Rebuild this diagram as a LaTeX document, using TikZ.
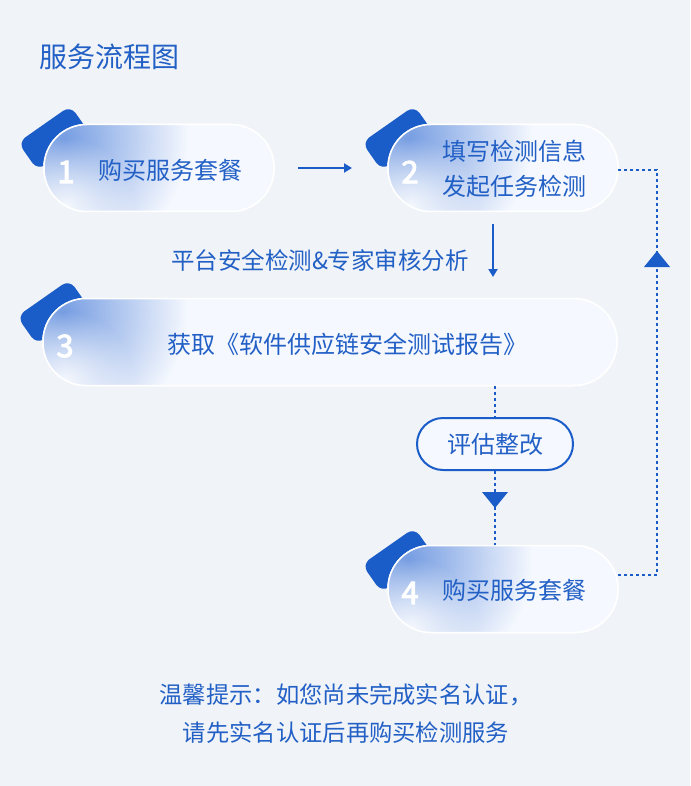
\documentclass[tikz,border=0pt]{standalone}
\usepackage{fontspec}
\setmainfont{Noto Sans CJK SC}
\newfontfamily\numfont{Noto Sans CJK SC}[FakeBold=3]
\usetikzlibrary{arrows.meta,fadings}
\tikzfading[name=radfade, inner color=transparent!0, outer color=transparent!100]
\definecolor{bg}{HTML}{F0F3F7}
\definecolor{tabblue}{HTML}{1A5CC8}
\definecolor{txtblue}{HTML}{2260C6}
\definecolor{pillfill}{HTML}{F5F8FE}
\definecolor{glow}{HTML}{769DE2}
\tikzset{
  pillbox/.style={fill=pillfill, draw=white, line width=1.5pt, rounded corners=43pt, inner sep=0pt},
  num/.style={text=white, font=\numfont\fontsize{31}{31}\selectfont, inner sep=0pt},
  ptext/.style={text=txtblue, font=\fontsize{24}{35}\selectfont, inner sep=0pt, align=center},
  dotline/.style={draw=tabblue, line width=2pt, dash pattern=on 3pt off 3pt},
  solidarrow/.style={draw=tabblue, line width=2.5pt, -{Triangle[length=8pt,width=9pt]}},
  tri/.style={fill=tabblue},
}
\newcommand{\glowpill}[4]{%
  \begin{scope}
    \clip[rounded corners=43pt] (#1,#2) rectangle (#3,#4);
    \shade[inner color=glow, outer color=pillfill] (#1+20,#2+14) circle (125);
    \fill[white, opacity=0.85, path fading=radfade] (#1+22,#4-4) circle (70);
  \end{scope}
  \draw[white, line width=1.5pt, rounded corners=43pt] (#1,#2) rectangle (#3,#4);
}
\begin{document}
\begin{tikzpicture}[x=1pt,y=-1pt]
\fill[bg] (0,0) rectangle (690,786);
\useasboundingbox (0,0) rectangle (690,786);

\node[anchor=west, text=txtblue, font=\fontsize{28}{28}\selectfont, inner sep=0pt] (title) at (39,57) {服务流程图};

% pill 1
\fill[tabblue, rounded corners=9pt, rotate around={35:(54,138)}] (22,121) rectangle (86,155);
\node[pillbox, minimum width=230pt, minimum height=87pt] (p1) at (159,168) {};
\glowpill{44}{124.5}{274}{211.5}
\node[num] (n1) at (66,172) {1};
\node[ptext] (t1) at (170,170) {购买服务套餐};

% pill 2
\fill[tabblue, rounded corners=9pt, rotate around={35:(398,138)}] (366,121) rectangle (430,155);
\node[pillbox, minimum width=230pt, minimum height=87pt] (p2) at (503,168) {};
\glowpill{388}{124.5}{618}{211.5}
\node[num] (n2) at (410,172) {2};
\node[ptext] (t2) at (514,169) {填写检测信息\\发起任务检测};

% pill 3
\fill[tabblue, rounded corners=9pt, rotate around={35:(53,312)}] (21,295) rectangle (85,329);
\node[pillbox, minimum width=574pt, minimum height=87pt] (p3) at (330,342) {};
\glowpill{43}{298.5}{617}{385.5}
\node[num] (n3) at (65,346) {3};
\node[ptext] (t3) at (347,344) {获取《软件供应链安全测试报告》};

% pill 4
\fill[tabblue, rounded corners=9pt, rotate around={35:(398,560)}] (366,543) rectangle (430,577);
\node[pillbox, minimum width=230pt, minimum height=87pt] (p4) at (503,589) {};
\glowpill{388}{545.5}{618}{632.5}
\node[num] (n4) at (410,593) {4};
\node[ptext] (t4) at (514,590) {购买服务套餐};

% arrows
\coordinate (a1s) at (298,168);
\coordinate (a1e) at (352,168);
\draw[solidarrow] (a1s) -- (a1e);
\coordinate (a2s) at (493,224);
\coordinate (a2e) at (493,277);
\draw[solidarrow] (a2s) -- (a2e);
\node[text=txtblue, font=\fontsize{23.5}{23.5}\selectfont, inner sep=0pt] (lab) at (320,260) {平台安全检测\&专家审核分析};

% evaluate box
\node[draw=tabblue, line width=2pt, fill=pillfill, rounded corners=26pt, minimum width=156pt, minimum height=52pt, inner sep=0pt, text=txtblue, font=\fontsize{24}{24}\selectfont] (ev) at (495,444) {评估整改};

\draw[dotline] (495,386) -- (ev.north);
\draw[dotline] (ev.south) -- (495,545);
\fill[tri] (482,492) -- (508,492) -- (495,508) -- cycle;

% loop back
\coordinate (c1) at (657,575);
\coordinate (c2) at (657,170);
\draw[dotline] (618,575) -- (c1) -- (c2) -- (618,170);
\fill[tri] (644,267) -- (670,267) -- (657,251) -- cycle;

% footer
\node[text=txtblue, font=\fontsize{23.3}{38}\selectfont, inner sep=0pt, align=center] (foot) at (346,714) {温馨提示：如您尚未完成实名认证，\\请先实名认证后再购买检测服务};
\end{tikzpicture}
\end{document}
